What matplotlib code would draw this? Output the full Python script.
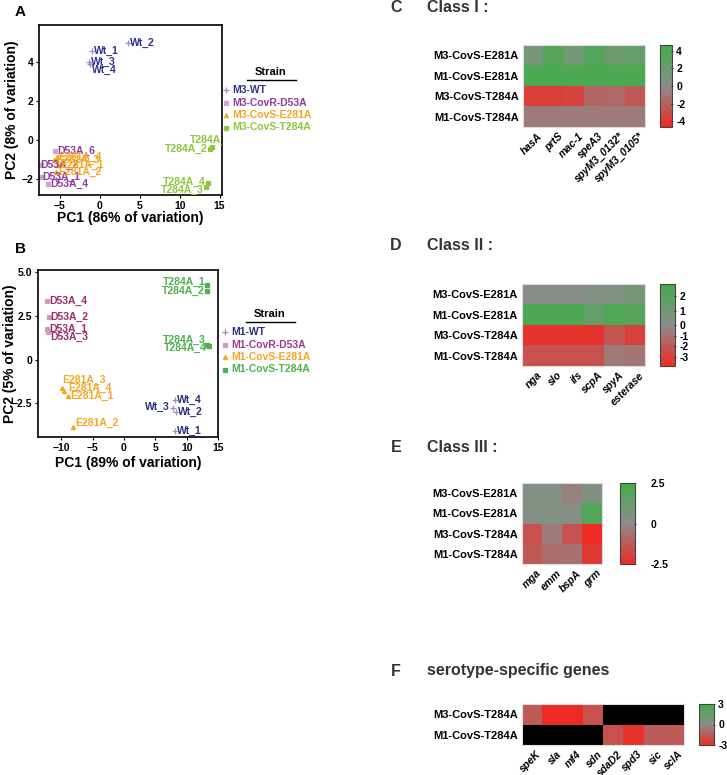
import matplotlib
matplotlib.use("Agg")
import matplotlib.pyplot as plt
import numpy as np
from matplotlib.colors import LinearSegmentedColormap, TwoSlopeNorm, Normalize
from matplotlib.lines import Line2D

plt.rcParams["font.family"] = ["Liberation Sans", "DejaVu Sans"]
plt.rcParams["font.weight"] = "bold"

W, H = 727, 775

# ---------------- PCA data ----------------
# panel A (M3)
a_wt_lab = ["Wt_1", "Wt_2", "Wt_3", "Wt_4"]
a_wt_x = [-1.0, 3.5, -1.4, -1.2]
a_wt_y = [4.56, 5.0, 4.0, 3.9]
a_d53_lab = ["D53A_6", "D53A_2", "D53A_1", "D53A_4"]
a_d53_x = [-5.6, -7.4, -7.3, -6.5]
a_d53_y = [-0.56, -1.25, -1.9, -2.25]
a_e281_lab = ["E281A_3", "E281A_4", "E281A_1", "E281A_2"]
a_e281_x = [-5.7, -5.4, -5.2, -5.5]
a_e281_y = [-1.0, -0.85, -1.25, -1.6]
a_t284_lab = ["T284A_1", "T284A_2", "T284A_4", "T284A_3"]
a_t284_x = [14.1, 13.75, 13.5, 13.3]
a_t284_y = [-0.35, -0.45, -2.2, -2.4]

# panel B (M1)
b_wt_lab = ["Wt_4", "Wt_3", "Wt_2", "Wt_1"]
b_wt_x = [8.1, 7.8, 8.25, 8.1]
b_wt_y = [-2.3, -2.8, -3.0, -4.1]
b_d53_lab = ["D53A_4", "D53A_2", "D53A_1", "D53A_3"]
b_d53_x = [-12.2, -12.0, -12.2, -12.1]
b_d53_y = [3.36, 2.44, 1.75, 1.6]
b_e281_lab = ["E281A_3", "E281A_4", "E281A_1", "E281A_2"]
b_e281_x = [-9.8, -9.5, -8.9, -8.1]
b_e281_y = [-1.65, -1.8, -2.1, -3.9]
b_t284_lab = ["T284A_1", "T284A_2", "T284A_3", "T284A_4"]
b_t284_x = [13.3, 13.2, 13.3, 13.5]
b_t284_y = [4.28, 3.94, 0.83, 0.78]

# ---------------- heatmap data ----------------
rows4 = ["M3-CovS-E281A", "M1-CovS-E281A", "M3-CovS-T284A", "M1-CovS-T284A"]
rows2 = ["M3-CovS-T284A", "M1-CovS-T284A"]

c_genes = ["hasA", "prtS", "mac-1", "speA3", "spyM3_0132*", "spyM3_0105*"]
c_vals = [[1.2, 3.4, 1.5, 3.5, 2.0, 2.5],
          [4.0, 4.0, 4.0, 4.0, 4.0, 4.0],
          [-3.7, -3.7, -3.5, -1.8, -1.7, -2.4],
          [-0.8, -0.8, -0.8, -0.8, -0.8, -0.8]]

d_genes = ["nga", "slo", "ifs", "scpA", "spyA", "esterase"]
d_vals = [[0.2, 0.2, 0.2, 0.4, 0.4, 0.8],
          [2.4, 2.4, 2.4, 1.6, 2.3, 2.1],
          [-3.5, -3.5, -3.5, -3.5, -2.2, -3.0],
          [-2.3, -2.3, -2.3, -2.3, -0.8, -0.9]]

e_genes = ["mga", "emm", "bspA", "grm"]
e_vals = [[0.3, 0.3, -0.3, 0.4],
          [0.3, 0.3, 0.2, 1.9],
          [-1.5, -0.4, -1.5, -2.5],
          [-1.3, -0.8, -0.7, -2.1]]

f_genes = ["speK", "sla", "mf4", "sdn", "sdaD2", "spd3", "sic", "sclA"]
f_vals = [[-1.5, -3.0, -3.0, -1.8, np.nan, np.nan, np.nan, np.nan],
          [np.nan, np.nan, np.nan, np.nan, -1.8, -2.7, -1.5, -1.5]]

fig = plt.figure(figsize=(W / 100, H / 100), dpi=100)


def rect(x0, y0, x1, y1):
    return [x0 / W, 1 - y1 / H, (x1 - x0) / W, (y1 - y0) / H]


def ftext(x, y, s, **kw):
    fig.text(x / W, 1 - y / H, s, **kw)


def pca_panel(box, xlim, ylim, xticks, yticks, ylabs, xlabel, ylabel, groups, nudges, lab_off):
    ax = fig.add_axes(rect(*box))
    sizes = {"+": 4.5, "s": 2.3, "^": 3}
    for xs, ys, labs, tcol, mcol, mk in groups:
        ax.plot(xs, ys, linestyle="none", marker=mk, color=mcol, ms=sizes[mk], mew=0.9,
                clip_on=False)
        for x, y, lab in zip(xs, ys, labs):
            dx, dy, ha = nudges.get(lab, (2, 0, "left"))
            t = ax.annotate(lab, (x, y), xytext=(dx, dy), textcoords="offset pixels",
                            ha=ha, va="center", color=tcol, fontsize=7.5,
                            fontweight="bold", annotation_clip=False)
            t.set_clip_on(True)
            t.set_clip_path(ax.patch)
    ax.set_xlim(*xlim)
    ax.set_ylim(*ylim)
    ax.set_xticks(xticks)
    ax.set_yticks(yticks)
    ax.set_yticklabels(ylabs)
    ax.tick_params(labelsize=7.5, length=2.5, width=0.8, pad=1.5)
    for sp in ax.spines.values():
        sp.set_linewidth(1.2)
    ax.set_xlabel(xlabel, fontsize=10, fontweight="bold")
    ax.set_ylabel(ylabel, fontsize=10, fontweight="bold")
    ax.xaxis.set_label_coords(0.5, lab_off[0])
    ax.yaxis.set_label_coords(lab_off[1], 0.5)
    return ax


def legend_block(x, y, entries):
    ftext(x + 40, y, "Strain", fontsize=8, fontweight="bold", ha="center", va="center")
    fig.add_artist(Line2D([(x + 16) / W, (x + 65) / W], [1 - (y + 8) / H] * 2,
                          color="black", lw=1))
    sizes = {"+": 4.5, "s": 2.3, "^": 3}
    for i, (lab, tcol, mcol, mk) in enumerate(entries):
        yy = y + 18 + i * 12.5
        fig.add_artist(Line2D([(x - 5) / W], [1 - yy / H], marker=mk, color=mcol,
                              ms=sizes[mk], mew=0.9, linestyle="none"))
        ftext(x + 1, yy, lab, color=tcol, fontsize=7.5, fontweight="bold", va="center")


# ---------- Panel A ----------
wtA, wtM = "#2e3192", "#a38cc6"
d53A, d53M = "#8e3a9e", "#c9a6d6"
orng = "#f5a623"
grnA = "#8cc63f"
nudA = {"Wt_4": (2, -6, "left"),
        "T284A_1": (-23, 7, "left"), "T284A_2": (-2, 0, "right"),
        "T284A_4": (-2, 1, "right"), "T284A_3": (-2, -3, "right"),
        "D53A_2": (0, 0, "left"), "D53A_1": (1, 0, "left")}
pca_panel((39, 25, 222, 195), (-7.6, 15.3), (-2.8, 5.9), [-5, 0, 5, 10, 15], [-2, 0, 2, 4],
          ["\u22122", "0", "2", "4"],
          "PC1 (86% of variation)", "PC2 (8% of variation)",
          [(a_wt_x, a_wt_y, a_wt_lab, wtA, wtM, "+"),
           (a_d53_x, a_d53_y, a_d53_lab, d53A, d53M, "s"),
           (a_e281_x, a_e281_y, a_e281_lab, orng, orng, "^"),
           (a_t284_x, a_t284_y, a_t284_lab, grnA, grnA, "s")], nudA, (-0.094, -0.11))
legend_block(231, 72, [("M3-WT", wtA, wtM, "+"), ("M3-CovR-D53A", d53A, d53M, "s"),
                       ("M3-CovS-E281A", orng, orng, "^"), ("M3-CovS-T284A", grnA, grnA, "s")])
ftext(20, 12, "A", fontsize=11, fontweight="bold", ha="center", va="center")

# ---------- Panel B ----------
wtB = "#2b2f7f"
d53B, d53BM = "#9b2d6f", "#d19abb"
grnB = "#4cb050"
nudB = {"D53A_3": (2, -5, "left"),
        "T284A_1": (-2, 3, "right"), "T284A_2": (-2, 0, "right"),
        "T284A_3": (-2, 5, "right"), "T284A_4": (-2, -2, "right"),
        "E281A_3": (0, 8, "left"), "E281A_4": (4, 3, "left"),
        "E281A_2": (2, 4, "left"), "Wt_3": (-3, 1, "right")}
pca_panel((38, 270, 218, 437), (-13.7, 15.0), (-4.45, 5.14), [-10, -5, 0, 5, 10, 15],
          [-2.5, 0, 2.5, 5.0], ["\u22122.5", "0", "2.5", "5.0"],
          "PC1 (89% of variation)", "PC2 (5% of variation)",
          [(b_wt_x, b_wt_y, b_wt_lab, wtB, wtM, "+"),
           (b_d53_x, b_d53_y, b_d53_lab, d53B, d53BM, "s"),
           (b_e281_x, b_e281_y, b_e281_lab, orng, orng, "^"),
           (b_t284_x, b_t284_y, b_t284_lab, grnB, grnB, "s")], nudB, (-0.114, -0.115))
legend_block(230, 314, [("M1-WT", wtB, wtM, "+"), ("M1-CovR-D53A", "#a0379a", d53BM, "s"),
                        ("M1-CovS-E281A", orng, orng, "^"), ("M1-CovS-T284A", grnB, grnB, "s")])
ftext(20, 249, "B", fontsize=11, fontweight="bold", ha="center", va="center")

# ---------- heatmaps ----------
cmap = LinearSegmentedColormap.from_list("rg", ["#ee2a24", "#8c8c8c", "#41ad49"])
cmap.set_bad("black")


def heat_panel(box, cbox, vals, rows, genes, norm, cticks, letter, title, ty, tick_pad=2):
    ax = fig.add_axes(rect(*box))
    data = np.ma.masked_invalid(np.array(vals, dtype=float))
    mesh = ax.pcolormesh(data, cmap=cmap, norm=norm)
    ax.set_xlim(0, len(genes))
    ax.set_ylim(len(rows), 0)
    ax.set_yticks(np.arange(len(rows)) + 0.5)
    ax.set_yticklabels(rows, fontsize=8, fontweight="bold")
    ax.set_xticks(np.arange(len(genes)) + 0.7)
    ax.set_xticklabels(genes, rotation=45, ha="right", rotation_mode="anchor",
                       fontsize=7.5, fontweight="bold", fontstyle="italic")
    ax.tick_params(length=0, pad=3)
    for sp in ax.spines.values():
        sp.set_color("#dddddd")
        sp.set_linewidth(0.8)
    cax = fig.add_axes(rect(*cbox))
    cb = fig.colorbar(mesh, cax=cax, ticks=cticks)
    cb.set_ticklabels([f"{v:g}" for v in cticks])
    cb.outline.set_linewidth(0.8)
    cb.outline.set_edgecolor("#444444")
    cax.tick_params(labelsize=7.5, length=2, width=0.6, pad=tick_pad, direction="inout")
    for t in cax.get_yticklabels():
        t.set_fontweight("bold")
    ftext(396, ty, letter, fontsize=11.5, fontweight="bold", color="#333333",
          ha="center", va="center")
    ftext(427, ty, title, fontsize=11.5, fontweight="bold", color="#333333", va="center")


heat_panel((523, 45, 645, 127), (660, 45, 672, 127), c_vals, rows4, c_genes,
           Normalize(-4.65, 4.65), [4, 2, 0, -2, -4], "C", "Class I :", 8)
heat_panel((522, 284, 645, 366), (660, 284, 675, 366), d_vals, rows4, d_genes,
           TwoSlopeNorm(0, -3.85, 2.87), [2, 1, 0, -1, -2, -3], "D", "Class II :", 246)
heat_panel((522, 483, 602, 564), (620, 483, 635, 564), e_vals, rows4, e_genes,
           Normalize(-2.5, 2.5), [2.5, 0, -2.5], "E", "Class III :", 447, tick_pad=10)
heat_panel((522, 704, 684, 745), (699, 704, 714, 745), f_vals, rows2, f_genes,
           Normalize(-3, 3), [3, 0, -3], "F", "serotype-specific genes", 671)

fig.savefig("out.png", dpi=100)
